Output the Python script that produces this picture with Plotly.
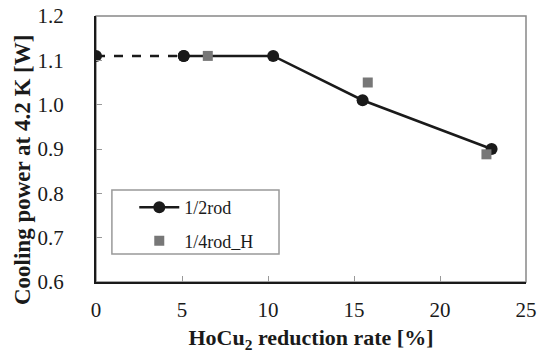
import plotly.graph_objects as go

# Data
rate_half = [0, 5.1, 10.3, 15.5, 23.0]
power_half = [1.11, 1.11, 1.11, 1.01, 0.90]
rate_quarter = [6.5, 15.8, 22.7]
power_quarter = [1.11, 1.05, 0.888]
x_ticks = [0, 5, 10, 15, 20, 25]
y_ticks = [0.6, 0.7, 0.8, 0.9, 1.0, 1.1, 1.2]

FONT = "Liberation Serif"

fig = go.Figure()
# dashed extrapolated segment
fig.add_trace(go.Scatter(
    x=rate_half[:2], y=power_half[:2], mode="lines+markers",
    line=dict(color="#1a1a1a", width=2.5, dash="dash"),
    marker=dict(symbol="circle", size=12, color="#1a1a1a"),
    showlegend=False, hoverinfo="skip"))
fig.add_trace(go.Scatter(
    x=rate_half[1:], y=power_half[1:], mode="lines+markers", name="1/2rod",
    legendgroup="a",
    line=dict(color="#1a1a1a", width=2.5),
    marker=dict(symbol="circle", size=12, color="#1a1a1a")))
fig.add_trace(go.Scatter(
    x=rate_quarter, y=power_quarter, mode="markers", name="1/4rod_H",
    legendgroup="b",
    marker=dict(symbol="square", size=10, color="#777777")))

# plot frame (gray top/right)
fig.add_shape(type="rect", xref="paper", yref="paper", x0=0, y0=0, x1=1, y1=1,
              line=dict(color="#888888", width=1.5), layer="below")
# legend box
fig.add_shape(type="rect", xref="paper", yref="paper",
              x0=0.037, x1=0.4256, y0=0.105, y1=0.346,
              line=dict(color="#999999", width=1.5), layer="below")

fig.add_annotation(text="<b>Cooling power at 4.2 K [W]</b>", textangle=-90,
                   xref="paper", yref="paper", x=-0.172, y=0.421,
                   xanchor="center", yanchor="middle", showarrow=False,
                   font=dict(family=FONT, size=23, color="#1a1a1a"))

fig.update_layout(
    width=544, height=353,
    margin=dict(l=96, r=18, t=16, b=71),
    paper_bgcolor="white", plot_bgcolor="white",
    font=dict(family=FONT, size=21, color="#1a1a1a"),
    legend=dict(x=0.089, y=0.349, xanchor="left", yanchor="top",
                borderwidth=0, bgcolor="rgba(0,0,0,0)",
                font=dict(family=FONT, size=18), itemwidth=40,
                tracegroupgap=7),
    xaxis=dict(range=[0, 25], tickvals=x_ticks, ticktext=[str(v) for v in x_ticks],
               ticks="inside", ticklen=6, tickcolor="#999999",
               showgrid=False, zeroline=False, automargin=False,
               showline=True, linecolor="#1a1a1a", linewidth=2,
               ticklabelstandoff=8,
               tickfont=dict(family=FONT, size=21),
               title=dict(text="<b>HoCu<sub>2</sub> reduction rate [%]</b>",
                          font=dict(family=FONT, size=22), standoff=10)),
    yaxis=dict(range=[0.6, 1.2], tickvals=y_ticks,
               ticktext=[f"{v:.1f}" for v in y_ticks],
               ticks="inside", ticklen=6, tickcolor="#999999",
               showgrid=False, zeroline=False, automargin=False,
               showline=True, linecolor="#1a1a1a", linewidth=2,
               ticklabelstandoff=26,
               tickfont=dict(family=FONT, size=21)),
)

fig.write_html("out.html")
